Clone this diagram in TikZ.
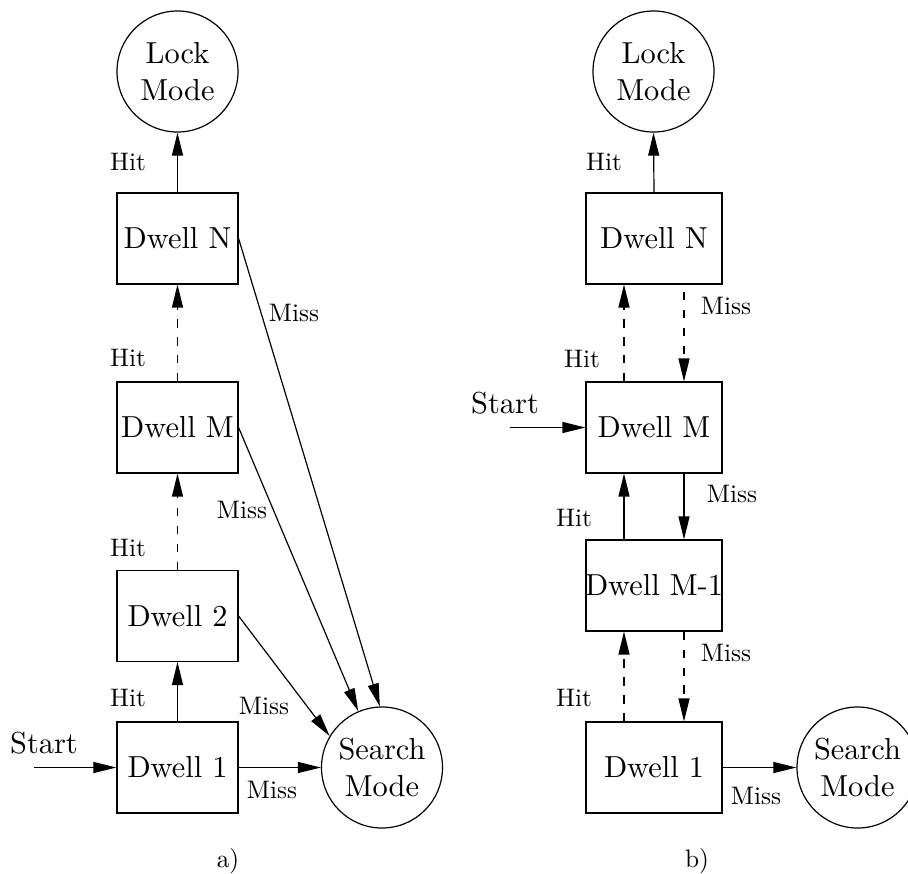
\documentclass[tikz,border=0pt]{standalone}
\usetikzlibrary{arrows.meta}
\font\mainfnt="[lmroman10-regular]:mapping=tex-text" at 12pt
\begin{document}
\begin{tikzpicture}[x=0.395pt,y=-0.395pt,
  line width=0.47pt,
  main/.style={font=\fontsize{12}{14.5}\selectfont\mainfnt},
  lab/.style={font=\fontsize{10}{12}\selectfont, inner sep=0pt},
  dwellA/.style={draw, rectangle, minimum width=47.8pt, minimum height=35.9pt, inner sep=0pt, main},
  dwellB/.style={dwellA, minimum width=53.7pt},
  modec/.style={draw, circle, minimum size=47.8pt, inner sep=0pt, align=center, main},
  arr/.style={-{Triangle[length=9.1pt,width=4.35pt]}},
  dsh/.style={dash pattern=on 3.2pt off 3.9pt}
]
\useasboundingbox (0,0) rectangle (908,873);

% ---------- a) ----------
\node[modec] (LA) at (177.5,71.5) {Lock\\Mode};
\node[dwellA] (DNa) at (177.5,238.5) {Dwell N};
\node[dwellA] (DMa) at (177.5,427.5) {Dwell M};
\node[dwellA] (D2a) at (177.5,616) {Dwell 2};
\node[dwellA] (D1a) at (177.5,767.5) {Dwell 1};
\node[modec] (SA) at (382,767.5) {Search\\Mode};
\node[main, inner sep=0pt] (startA) at (44,743) {Start};
\coordinate (sA) at (34,767.5);

\draw[arr] (DNa.north) -- (LA.south);
\draw[arr,dsh] (DMa.north) -- (DNa.south);
\draw[arr,dsh] (D2a.north) -- (DMa.south);
\draw[arr] (D1a.north) -- (D2a.south);
\draw[arr] (sA) -- (D1a.west);
\draw[arr] (D1a.east) -- (SA.west);
\draw[arr] (D2a.east) -- (SA.149);
\draw[arr] (DMa.east) -- (SA);
\draw[arr] (DNa.east) -- (SA.92);

\node[lab] (h1a) at (128,162) {Hit};
\node[lab] (h2a) at (128,358) {Hit};
\node[lab] (h3a) at (128,548) {Hit};
\node[lab] (h4a) at (128,698) {Hit};
\node[lab] (m1a) at (294,313) {Miss};
\node[lab] (m2a) at (242,510) {Miss};
\node[lab] (m3a) at (264,706) {Miss};
\node[lab] (m4a) at (272,790) {Miss};
\node[lab] (capA) at (228,861) {a)};

% ---------- b) ----------
\node[modec] (LB) at (653.5,71.5) {Lock\\Mode};
\node[dwellB] (DNb) at (654,238.5) {Dwell N};
\node[dwellB] (DMb) at (654,427.5) {Dwell M};
\node[dwellB] (DM1b) at (654,585.5) {\makebox[0pt][c]{Dwell M-1}};
\node[dwellB] (D1b) at (654,767.5) {Dwell 1};
\node[modec] (SB) at (857.5,767.5) {Search\\Mode};
\node[main, inner sep=0pt] (startB) at (505,403) {Start};
\coordinate (sB) at (510,427.5);

\draw[arr] (DNb.north) -- (LB.south);
\draw[arr,dsh] ([xshift=-11.85pt]DMb.north) -- ([xshift=-11.85pt]DNb.south);
\draw[arr,dsh] ([xshift=11.85pt,yshift=-2.8pt]DNb.south) -- ([xshift=11.85pt]DMb.north);
\draw[arr] ([xshift=-11.85pt]DM1b.north) -- ([xshift=-11.85pt]DMb.south);
\draw[arr] ([xshift=11.85pt]DMb.south) -- ([xshift=11.85pt]DM1b.north);
\draw[arr,dsh] ([xshift=-11.85pt]D1b.north) -- ([xshift=-11.85pt]DM1b.south);
\draw[arr,dsh] ([xshift=11.85pt]DM1b.south) -- ([xshift=11.85pt]D1b.north);
\draw[arr] (sB) -- (DMb.west);
\draw[arr] (D1b.east) -- (SB.west);

\node[lab] (h1b) at (604,162) {Hit};
\node[lab] (m1b) at (726,306) {Miss};
\node[lab] (h2b) at (582,359) {Hit};
\node[lab] (m2b) at (732,494) {Miss};
\node[lab] (h3b) at (574,518) {Hit};
\node[lab] (m3b) at (726,653) {Miss};
\node[lab] (h4b) at (574,698) {Hit};
\node[lab] (m4b) at (756,796) {Miss};
\node[lab] (capB) at (697,861) {b)};
\end{tikzpicture}
\end{document}
